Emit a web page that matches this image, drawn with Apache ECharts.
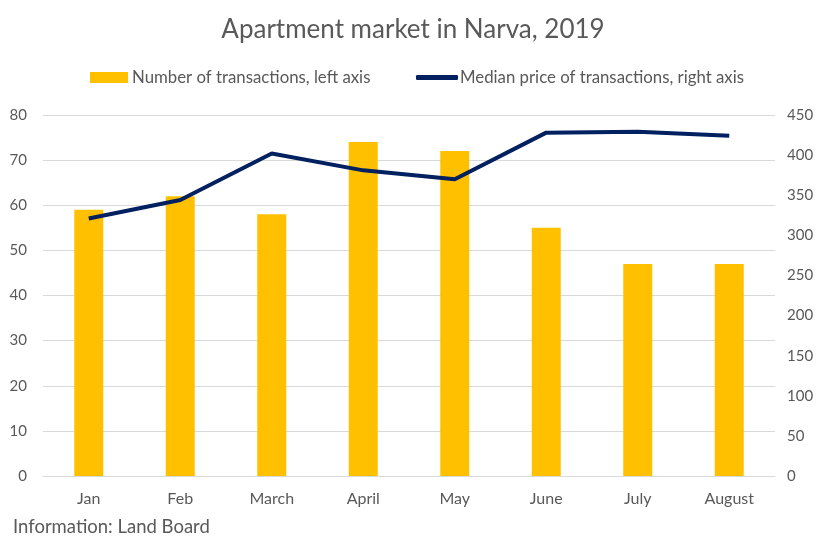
<!DOCTYPE html>
<html><head><meta charset="utf-8">
<script src="https://cdn.jsdelivr.net/npm/echarts@6/dist/echarts.min.js"></script>
<style>html,body{margin:0;padding:0;background:#fff}#c{width:826px;height:554px}</style>
</head><body><div id="c"></div>
<script>
const categories = ['Jan','Feb','March','April','May','June','July','August'];
const transactions = [59, 62, 58, 74, 72, 55, 47, 47];
const medianPrice = [321, 344, 402, 381, 370, 428, 429, 424];
const leftTicks = [0, 80, 10];
const rightTicks = [0, 450, 50];
const FONT = 'Lato';
const chart = echarts.init(document.getElementById('c'));
chart.setOption({
  backgroundColor: '#fff',
  textStyle: { fontFamily: FONT },
  title: { text: 'Apartment market in Narva, 2019', left: 'center', top: 12,
    textStyle: { fontFamily: FONT, fontSize: 26, fontWeight: 'normal', color: '#595959' } },
  legend: [
    { top: 69, left: 90, padding: 0, itemGap: 0, itemWidth: 38, itemHeight: 11,
      textStyle: { fontFamily: FONT, fontSize: 16.8, color: '#595959', padding: [0, 0, 0, -1] },
      data: [{ name: 'Number of transactions, left axis', icon: 'rect' }] },
    { top: 69, left: 416, padding: 0, itemGap: 0, itemWidth: 42, itemHeight: 5,
      textStyle: { fontFamily: FONT, fontSize: 16.8, color: '#595959', padding: [0, 0, 0, -3] },
      data: [{ name: 'Median price of transactions, right axis', icon: 'roundRect',
               itemStyle: { color: '#002060' } }] }
  ],
  graphic: [{ type: 'text', left: 13, top: 518,
    style: { text: 'Information: Land Board', fontFamily: FONT, fontSize: 18.5, fill: '#595959' } }],
  grid: { left: 43, right: 51, top: 115, bottom: 78 },
  xAxis: { type: 'category', data: categories,
    axisLine: { lineStyle: { color: '#D9D9D9' } }, axisTick: { show: false },
    axisLabel: { color: '#595959', fontSize: 16, margin: 15 } },
  yAxis: [
    { type: 'value', min: leftTicks[0], max: leftTicks[1], interval: leftTicks[2],
      axisLine: { show: false }, axisTick: { show: false },
      axisLabel: { color: '#595959', fontSize: 15, margin: 16 },
      splitLine: { lineStyle: { color: '#D9D9D9', width: 1 } } },
    { type: 'value', min: rightTicks[0], max: rightTicks[1], interval: rightTicks[2],
      axisLine: { show: false }, axisTick: { show: false },
      axisLabel: { color: '#595959', fontSize: 15, margin: 12 },
      splitLine: { show: false } }
  ],
  series: [
    { name: 'Number of transactions, left axis', type: 'bar', yAxisIndex: 0,
      data: transactions, barWidth: 29, itemStyle: { color: '#FFC000' } },
    { name: 'Median price of transactions, right axis', type: 'line', yAxisIndex: 1,
      data: medianPrice, symbol: 'none', lineStyle: { color: '#002060', width: 4 },
      itemStyle: { color: '#002060' } }
  ]
});
</script></body></html>
